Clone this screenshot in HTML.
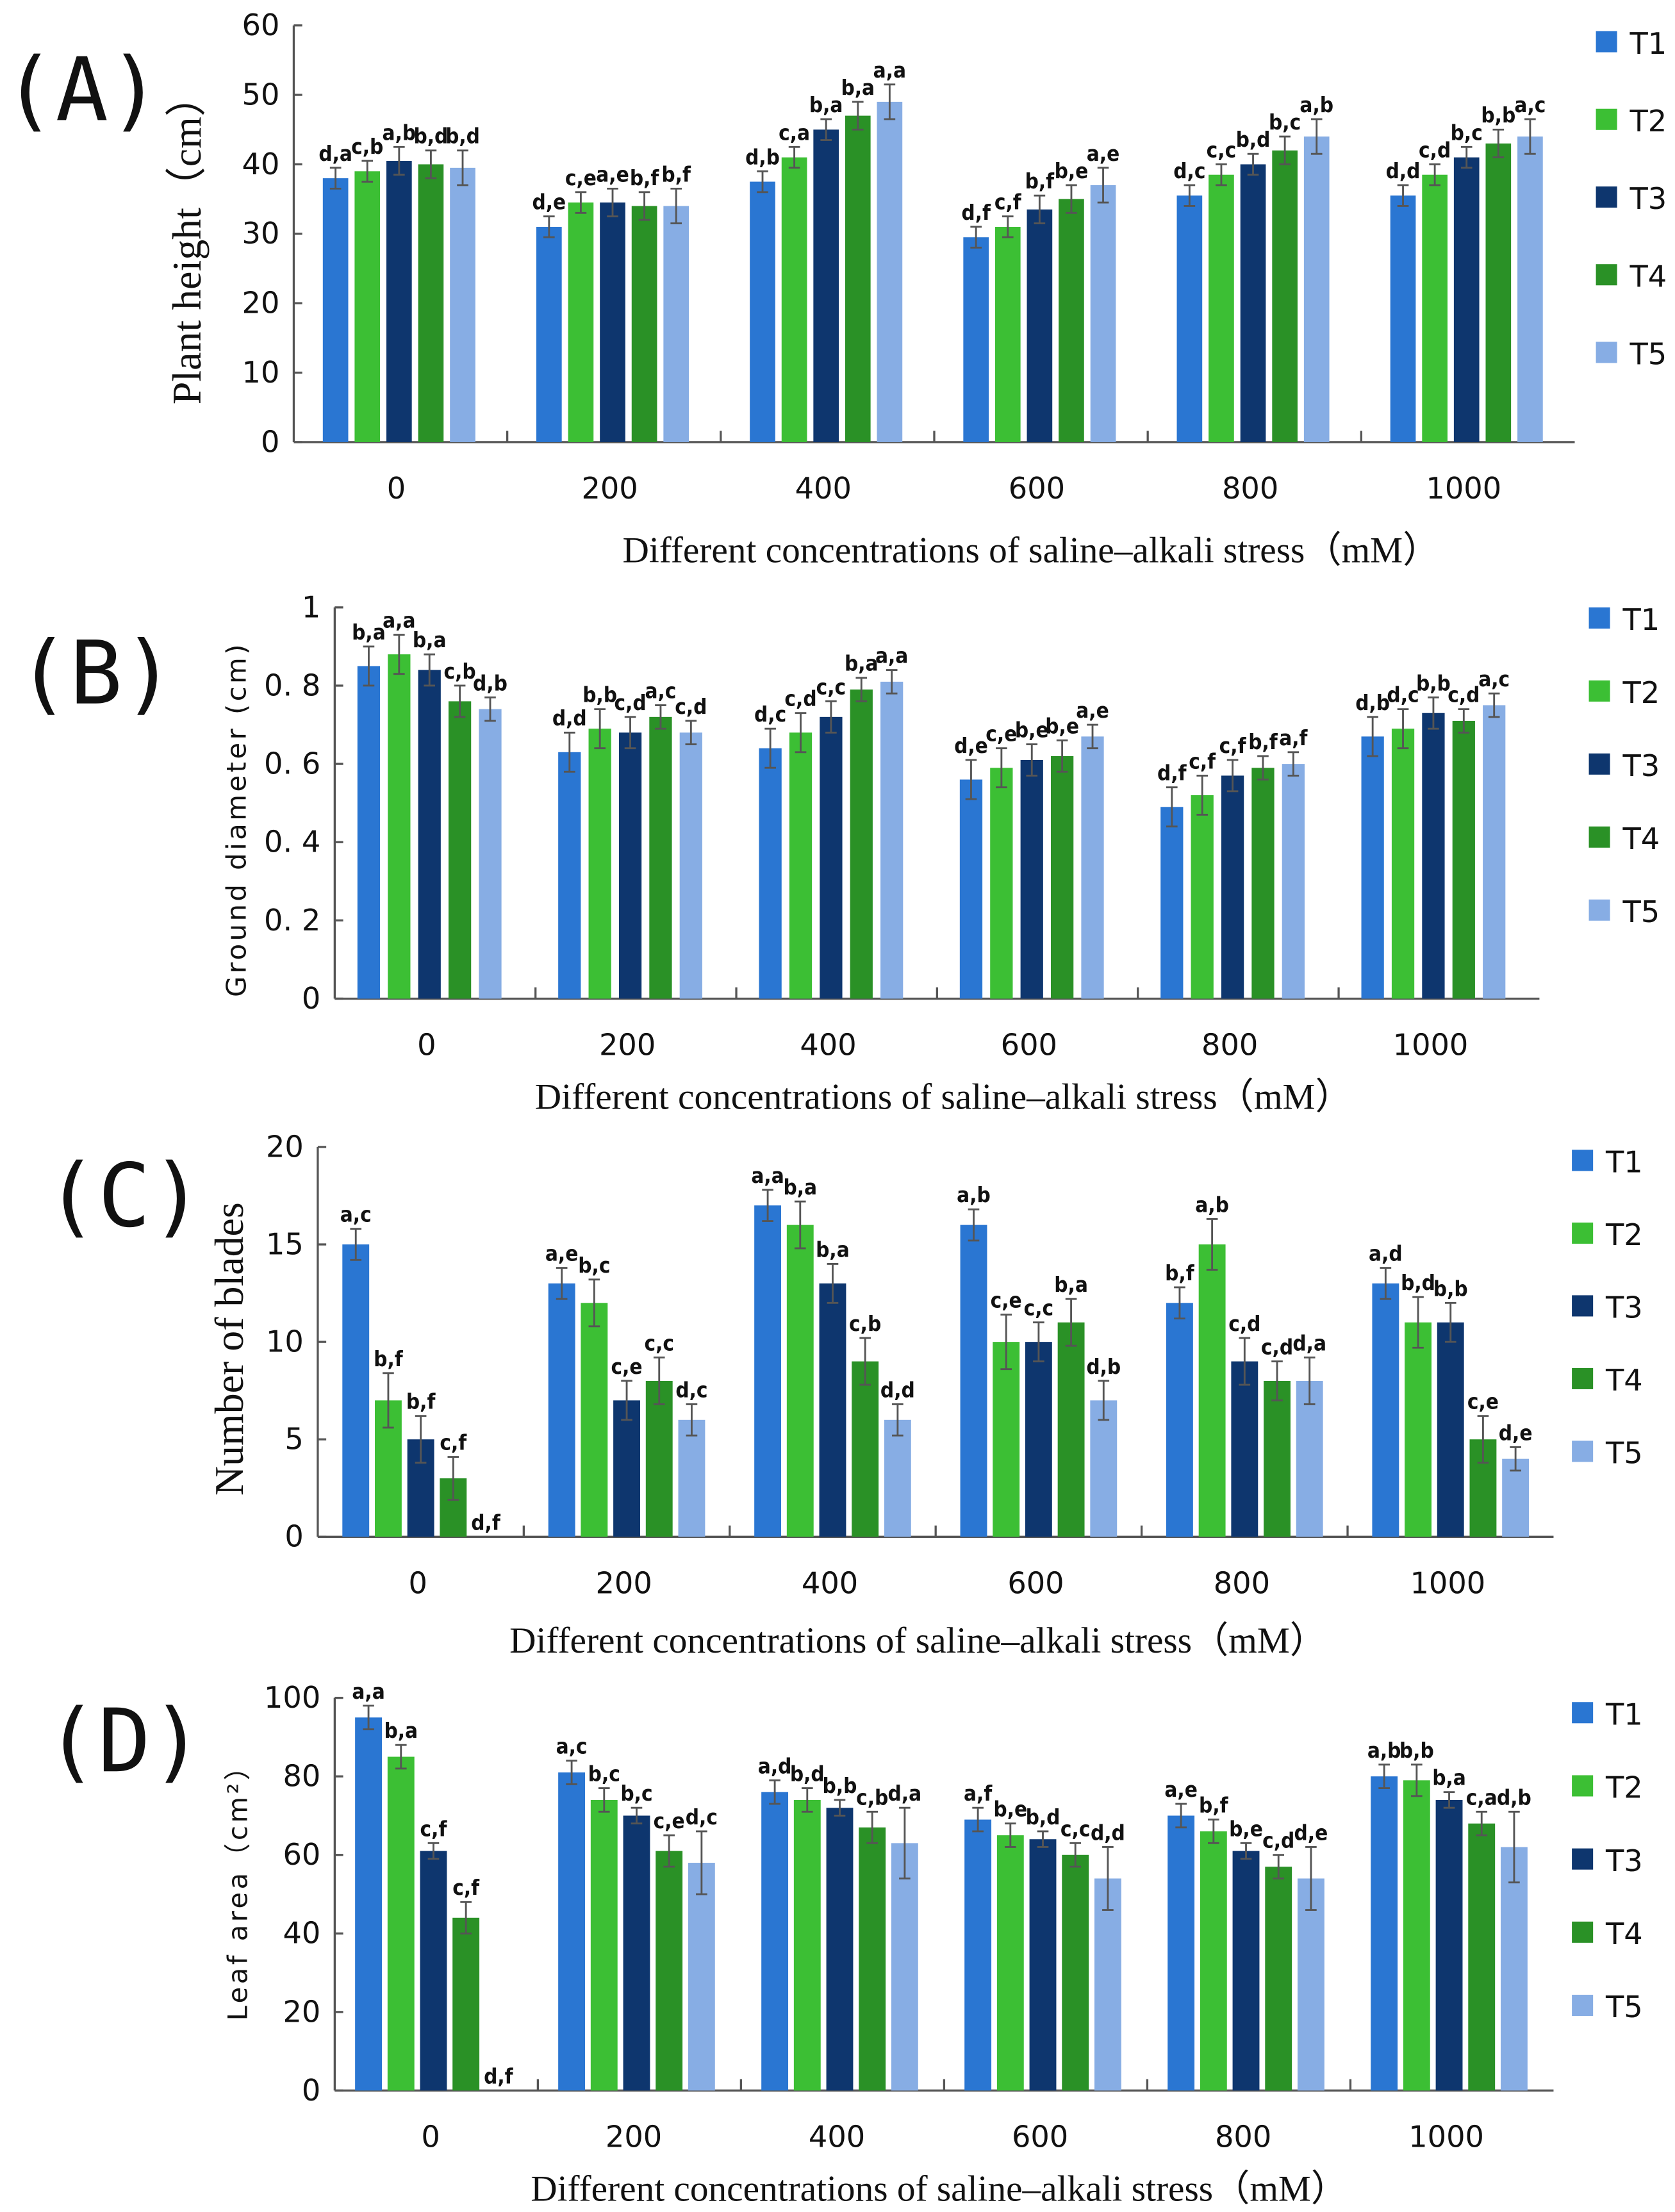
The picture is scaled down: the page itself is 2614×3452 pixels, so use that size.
<!DOCTYPE html>
<html><head><meta charset="utf-8"><style>
html,body{margin:0;padding:0;background:#fff;}
svg{display:block}
.tk{font-family:"DejaVu Sans","Liberation Sans",sans-serif;font-size:21px;fill:#111}
.lab{font-family:"DejaVu Sans Condensed","Liberation Sans",sans-serif;font-size:15px;fill:#111;font-weight:bold}
.ser{font-family:"Liberation Serif",serif;fill:#111}
.big{font-family:"DejaVu Sans Mono","Liberation Mono",monospace;font-size:62px;fill:#111}
</style></head><body>
<svg id="chart" width="2614" height="3452" viewBox="0 0 1186 1566" preserveAspectRatio="none"></svg>
<script>
const categories=["0","200","400","600","800","1000"];
const seriesNames=["T1","T2","T3","T4","T5"];
const colors=["#2a76d2","#3cbf34","#0e366e","#2a9126","#87ade4"];
const valuesA=[[38,39,40.5,40,39.5],[31,34.5,34.5,34,34],[37.5,41,45,47,49],[29.5,31,33.5,35,37],[35.5,38.5,40,42,44],[35.5,38.5,41,43,44]];
const errA=[[1.5,1.5,2,2,2.5],[1.5,1.5,2,2,2.5],[1.5,1.5,1.5,2,2.5],[1.5,1.5,2,2,2.5],[1.5,1.5,1.5,2,2.5],[1.5,1.5,1.5,2,2.5]];
const lettersA=[["d,a","c,b","a,b","b,d","b,d"],["d,e","c,e","a,e","b,f","b,f"],["d,b","c,a","b,a","b,a","a,a"],["d,f","c,f","b,f","b,e","a,e"],["d,c","c,c","b,d","b,c","a,b"],["d,d","c,d","b,c","b,b","a,c"]];
const ticksA=[0,10,20,30,40,50,60];
const valuesB=[[.85,.88,.84,.76,.74],[.63,.69,.68,.72,.68],[.64,.68,.72,.79,.81],[.56,.59,.61,.62,.67],[.49,.52,.57,.59,.60],[.67,.69,.73,.71,.75]];
const errB=[[.05,.05,.04,.04,.03],[.05,.05,.04,.03,.03],[.05,.05,.04,.03,.03],[.05,.05,.04,.04,.03],[.05,.05,.04,.03,.03],[.05,.05,.04,.03,.03]];
const lettersB=[["b,a","a,a","b,a","c,b","d,b"],["d,d","b,b","c,d","a,c","c,d"],["d,c","c,d","c,c","b,a","a,a"],["d,e","c,e","b,e","b,e","a,e"],["d,f","c,f","c,f","b,f","a,f"],["d,b","d,c","b,b","c,d","a,c"]];
const ticksB=[0,0.2,0.4,0.6,0.8,1];
const tickLabB=["0","0. 2","0. 4","0. 6","0. 8","1"];
const valuesC=[[15,7,5,3,0],[13,12,7,8,6],[17,16,13,9,6],[16,10,10,11,7],[12,15,9,8,8],[13,11,11,5,4]];
const errC=[[.8,1.4,1.2,1.1,0],[.8,1.2,1,1.2,.8],[.8,1.2,1,1.2,.8],[.8,1.4,1,1.2,1],[.8,1.3,1.2,1,1.2],[.8,1.3,1,1.2,.6]];
const lettersC=[["a,c","b,f","b,f","c,f","d,f"],["a,e","b,c","c,e","c,c","d,c"],["a,a","b,a","b,a","c,b","d,d"],["a,b","c,e","c,c","b,a","d,b"],["b,f","a,b","c,d","c,d","d,a"],["a,d","b,d","b,b","c,e","d,e"]];
const ticksC=[0,5,10,15,20];
const valuesD=[[95,85,61,44,0],[81,74,70,61,58],[76,74,72,67,63],[69,65,64,60,54],[70,66,61,57,54],[80,79,74,68,62]];
const errD=[[3,3,2,4,0],[3,3,2,4,8],[3,3,2,4,9],[3,3,2,3,8],[3,3,2,3,8],[3,4,2,3,9]];
const lettersD=[["a,a","b,a","c,f","c,f","d,f"],["a,c","b,c","b,c","c,e","d,c"],["a,d","b,d","b,b","c,b","d,a"],["a,f","b,e","b,d","c,c","d,d"],["a,e","b,f","b,e","c,d","d,e"],["a,b","b,b","b,a","c,a","d,b"]];
const ticksD=[0,20,40,60,80,100];

const svg=document.getElementById('chart');
const NS="http://www.w3.org/2000/svg";
function mk(tag,attrs,parent,text){const e=document.createElementNS(NS,tag);for(const k in attrs)e.setAttribute(k,attrs[k]);if(text!==undefined)e.textContent=text;(parent||svg).appendChild(e);return e;}

function panel(cfg){
  const g=mk('g',{});
  
  
  const {x0,x1,yb,yt,vmax,vals,errs,lets,ticks,tickLab}=cfg;
  const yS=v=>yb-(v/vmax)*(yb-yt);
  const gw=(x1-x0)/6;
  const xC=i=>x0+gw*(i+0.5)+cfg.shift;
  const ax=mk('line',{x1:x0,y1:yt,x2:x0,y2:yb,stroke:'#555','stroke-width':1.5},g);
  
  const xa=mk('line',{x1:x0,y1:yb,x2:x1,y2:yb,stroke:'#555','stroke-width':1.5},g);
  
  ticks.forEach((t,k)=>{
    mk('line',{x1:x0,y1:yS(t),x2:x0+6,y2:yS(t),stroke:'#555','stroke-width':1.5},g);
    const tl=mk('text',{x:x0-10,y:yS(t)+7,'text-anchor':'end',class:'tk'},g,tickLab?tickLab[k]:String(t));
    
  });
  for(let i=1;i<6;i++){mk('line',{x1:x0+gw*i,y1:yb,x2:x0+gw*i,y2:yb-8,stroke:'#555','stroke-width':1.5},g);}
  categories.forEach((c,i)=>{
    const tl=mk('text',{x:xC(i)-2,y:yb+40,'text-anchor':'middle',class:'tk'},g,c);
    
    vals[i].forEach((v,s)=>{
      const cx=xC(i)+(s-2)*cfg.step;
      const b=mk('rect',{x:cx-cfg.bw/2,y:yS(v),width:cfg.bw,height:yb-yS(v),fill:colors[s]},g);
      
      const e=errs[i][s];
      if(e>0){
        mk('path',{d:`M${cx},${yS(v+e)}V${yS(v-e)}M${cx-4},${yS(v+e)}H${cx+4}M${cx-4},${yS(v-e)}H${cx+4}`,stroke:'#555','stroke-width':1.3,fill:'none'},g);
      }
      const lt=mk('text',{x:cx,y:yS(v+e)-5,'text-anchor':'middle',class:'lab'},g,lets[i][s]);
      
    });
  });
  seriesNames.forEach((n,s)=>{
    const ly=cfg.legY+s*cfg.legStep;
    const r=mk('rect',{x:cfg.legX,y:ly-8,width:15,height:15,fill:colors[s]},g);
    
    const t=mk('text',{x:cfg.legX+24,y:ly+8,class:'tk'},g,n);
    
  });
  const yt2=mk('text',{transform:`translate(${cfg.ylx},${cfg.yly}) rotate(-90)`,'text-anchor':'middle',class:cfg.ylClass,style:cfg.ylStyle},g,cfg.ylabel);
  
  const xt=mk('text',{x:cfg.xtx,y:cfg.xty,'text-anchor':'middle',class:'ser',style:'font-size:26px'},g,'Different concentrations of saline\u2013alkali stress（mM）');
  
  const pl=mk('text',{x:cfg.plx,y:cfg.ply,class:'big'},g,cfg.letter);
  
}
panel({id:'a',x0:208,x1:1115,yb:313,yt:18,vmax:60,vals:valuesA,errs:errA,lets:lettersA,ticks:ticksA,shift:-1,step:22.5,bw:18,
 legX:1130,legY:30,legStep:55,ylabel:'Plant height（cm）',ylx:142,yly:170,ylClass:'ser',ylStyle:'font-size:29px',xtx:730,xty:398,plx:2,ply:85,letter:'(A)'});
panel({id:'b',x0:237,x1:1090,yb:707,yt:430,vmax:1,vals:valuesB,errs:errB,lets:lettersB,ticks:ticksB,tickLab:tickLabB,shift:-4,step:21.5,bw:16,
 legX:1125,legY:438,legStep:51.7,ylabel:'Ground diameter (cm)',ylx:174,yly:580,ylClass:'tk',ylStyle:'font-size:19px;letter-spacing:2px',xtx:668,xty:785,plx:12,ply:498,letter:'(B)'});
panel({id:'c',x0:225,x1:1100,yb:1088,yt:812,vmax:20,vals:valuesC,errs:errC,lets:lettersC,ticks:ticksC,shift:0,step:23,bw:19,
 legX:1113,legY:822,legStep:51.5,ylabel:'Number of blades',ylx:172,yly:955,ylClass:'ser',ylStyle:'font-size:29px',xtx:650,xty:1170,plx:32,ply:868,letter:'(C)'});
panel({id:'d',x0:237,x1:1100,yb:1480,yt:1202,vmax:100,vals:valuesD,errs:errD,lets:lettersD,ticks:ticksD,shift:-2,step:23,bw:19,
 legX:1113,legY:1213,legStep:51.8,ylabel:'Leaf area（cm²）',ylx:175,yly:1335,ylClass:'tk',ylStyle:'font-size:19px;letter-spacing:2px',xtx:665,xty:1558,plx:32,ply:1254,letter:'(D)'});
</script>
</body></html>
